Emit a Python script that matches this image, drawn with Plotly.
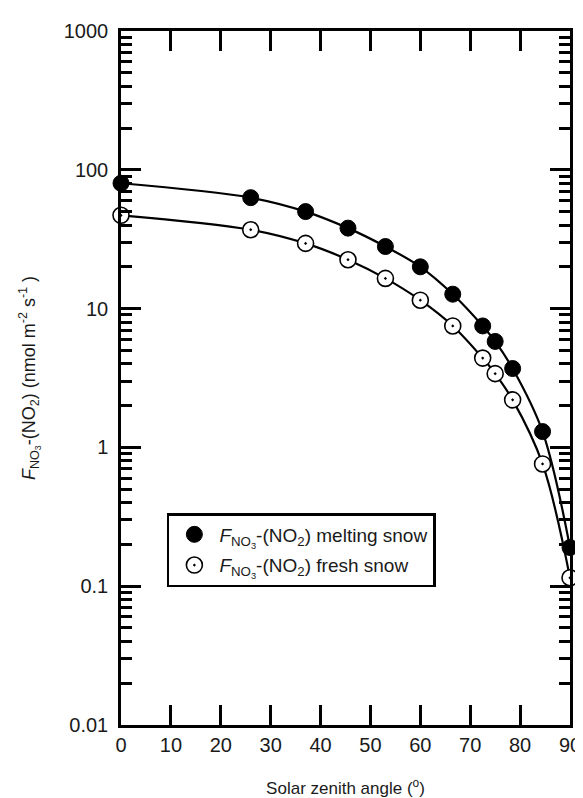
import plotly.graph_objects as go

sza_melt = [0, 26, 37, 45.5, 53, 60, 66.5, 72.5, 75, 78.5, 84.5, 90]
flux_melt = [80, 63, 50, 38, 28, 20, 12.7, 7.5, 5.8, 3.7, 1.3, 0.19]
sza_fresh = [0, 26, 37, 45.5, 53, 60, 66.5, 72.5, 75, 78.5, 84.5, 90]
flux_fresh = [47, 37, 29.5, 22.5, 16.5, 11.5, 7.5, 4.4, 3.4, 2.2, 0.76, 0.115]

x_ticks = [0, 10, 20, 30, 40, 50, 60, 70, 80, 90]
y_ticks = [0.01, 0.1, 1, 10, 100, 1000]
y_ticklabels = ["0.01", "0.1", "1", "10", "100", "1000"]

FONT = "Liberation Sans, Arial, sans-serif"
FLUX = "<i>F</i><sub>NO<sub>3</sub></sub>-(NO<sub>2</sub>)"
INK = "#1a1a1a"

melt_marker = dict(symbol="circle", size=16, color="black", line=dict(color="black", width=1))
fresh_marker = dict(symbol="circle-dot", size=16, color="white", line=dict(color="black", width=1.6))

fig = go.Figure()
fig.add_trace(go.Scatter(
    x=sza_melt, y=flux_melt, mode="lines+markers", line_shape="spline",
    line=dict(color="black", width=2.2), marker=melt_marker,
    showlegend=False, cliponaxis=False,
))
fig.add_trace(go.Scatter(
    x=sza_fresh, y=flux_fresh, mode="lines+markers", line_shape="spline",
    line=dict(color="black", width=2.2), marker=fresh_marker,
    showlegend=False, cliponaxis=False,
))
# legend entries (markers only)
fig.add_trace(go.Scatter(x=[None], y=[None], mode="markers", marker=melt_marker,
                         name=FLUX + " melting snow", legendgroup="a"))
fig.add_trace(go.Scatter(x=[None], y=[None], mode="markers", marker=fresh_marker,
                         name=FLUX + " fresh snow", legendgroup="b"))

fig.update_layout(
    width=583, height=798,
    margin=dict(l=113, r=10, t=23, b=81),
    paper_bgcolor="white", plot_bgcolor="white",
    font=dict(family=FONT, size=17, color=INK),
    showlegend=True,
    legend=dict(
        x=(160 - 113) / 460, y=1 - (505 - 23) / 694, xanchor="left", yanchor="top",
        bordercolor="black", borderwidth=2.5, bgcolor="white",
        font=dict(family=FONT, size=19, color=INK),
        itemwidth=40, tracegroupgap=3, traceorder="grouped",
    ),
)
fig.update_xaxes(
    range=[0, 90], tickvals=x_ticks, ticks="inside", ticklen=20, tickwidth=2.5,
    tickcolor="black", showline=True, linecolor="black", linewidth=2.5,
    mirror="ticks", showgrid=False, zeroline=False,
    tickfont=dict(size=20, color=INK),
    title=dict(text="Solar zenith angle (<sup>o</sup>)", standoff=28, font=dict(size=17, color=INK)),
)
fig.update_yaxes(
    type="log", range=[-2, 3], tickvals=y_ticks, ticktext=y_ticklabels,
    ticks="inside", ticklen=20, tickwidth=2.5, tickcolor="black",
    showline=True, linecolor="black", linewidth=2.5, mirror="ticks",
    showgrid=False, zeroline=False, tickfont=dict(size=20, color=INK),
    ticklabelstandoff=6,
    minor=dict(ticks="inside", ticklen=11, tickwidth=2.5, tickcolor="black", showgrid=False,
               tickvals=[m * 10 ** e for e in range(-2, 3) for m in range(2, 10)]),
    title=dict(text=FLUX + " (nmol m<sup>-2</sup> s<sup>-1</sup> )", standoff=24,
               font=dict(size=18, color=INK)),
)

fig.write_html("out.html")
